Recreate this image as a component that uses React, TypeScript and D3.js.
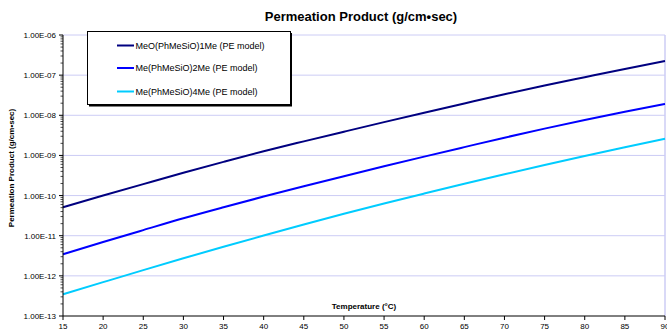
import React from "react";
import * as d3 from "d3";

const temperatures = [15, 20, 25, 30, 35, 40, 45, 50, 55, 60, 65, 70, 75, 80, 85, 90];
const seriesNames = [
  "MeO(PhMeSiO)1Me (PE model)",
  "Me(PhMeSiO)2Me (PE model)",
  "Me(PhMeSiO)4Me (PE model)",
];
const series1 = [5.13e-11, 1.0e-10, 1.93e-10, 3.7e-10, 6.92e-10, 1.27e-9, 2.24e-9, 3.9e-9, 6.76e-9, 1.16e-8, 1.97e-8, 3.33e-8, 5.52e-8, 8.91e-8, 1.43e-7, 2.24e-7];
const series2 = [3.44e-12, 6.95e-12, 1.38e-11, 2.72e-11, 5.12e-11, 9.44e-11, 1.71e-10, 3.04e-10, 5.36e-10, 9.33e-10, 1.61e-9, 2.77e-9, 4.65e-9, 7.59e-9, 1.22e-8, 1.91e-8];
const series3 = [3.48e-13, 6.97e-13, 1.39e-12, 2.74e-12, 5.31e-12, 1.01e-11, 1.9e-11, 3.52e-11, 6.34e-11, 1.12e-10, 1.96e-10, 3.39e-10, 5.75e-10, 9.64e-10, 1.6e-9, 2.61e-9];
const xTicks = [15, 20, 25, 30, 35, 40, 45, 50, 55, 60, 65, 70, 75, 80, 85, 90];
const yTickLabels = ["1.00E-13", "1.00E-12", "1.00E-11", "1.00E-10", "1.00E-09", "1.00E-08", "1.00E-07", "1.00E-06"];
const yTickValues = [1e-13, 1e-12, 1e-11, 1e-10, 1e-9, 1e-8, 1e-7, 1e-6];

const colors = ["#000080", "#0000ff", "#00ccff"];
const FONT = "'Liberation Sans', Arial, sans-serif";

export default function App() {
  const W = 667, H = 335;
  const left = 63, right = 665, top = 35, bottom = 316;
  const x = d3.scaleLinear().domain([15, 90]).range([left, right]);
  const y = d3.scaleLog().domain([1e-13, 1e-6]).range([bottom, top]);
  const allSeries = [series1, series2, series3];
  const line = d3
    .line<number>()
    .x((_, i) => x(temperatures[i]))
    .y((v) => y(v))
    .curve(d3.curveMonotoneX);

  const minor: number[] = [];
  for (let e = -13; e < -6; e++) {
    for (let m = 2; m <= 9; m++) minor.push(m * Math.pow(10, e));
  }

  const legendRows = [45.5, 68, 91.5];

  return (
    <svg
      width={W}
      height={H}
      style={{ position: "absolute", left: 0, top: 0, background: "#fff" }}
      fontFamily={FONT}
    >
      <rect x={0} y={0} width={W} height={H} fill="#fff" />
      <text x={361} y={21} textAnchor="middle" fontSize={13} fontWeight="bold">
        Permeation Product (g/cm•sec)
      </text>
      {/* gridlines */}
      {yTickValues.slice(1).map((v, i) => (
        <line key={i} x1={left} x2={right} y1={y(v)} y2={y(v)} stroke="#ccccf5" strokeWidth={1} />
      ))}
      <line x1={right} x2={right} y1={top} y2={bottom} stroke="#ccccf5" strokeWidth={1.5} />
      {/* series */}
      {allSeries.map((s, i) => (
        <path key={i} d={line(s) || ""} fill="none" stroke={colors[i]} strokeWidth={2} />
      ))}
      {/* axes */}
      <line x1={left} x2={left} y1={top} y2={bottom} stroke="#000" strokeWidth={1} />
      <line x1={left} x2={right} y1={bottom} y2={bottom} stroke="#000" strokeWidth={1} />
      {minor.map((v, i) => (
        <line key={i} x1={left - 2.5} x2={left} y1={y(v)} y2={y(v)} stroke="#000" strokeWidth={0.7} />
      ))}
      {yTickValues.map((v, i) => (
        <g key={i}>
          <line x1={left - 4} x2={left} y1={y(v)} y2={y(v)} stroke="#000" strokeWidth={1} />
          <text x={left - 7} y={y(v) + 3} textAnchor="end" fontSize={8}>
            {yTickLabels[i]}
          </text>
        </g>
      ))}
      {xTicks.map((t, i) => (
        <g key={i}>
          <line x1={x(t)} x2={x(t)} y1={bottom} y2={bottom + 4} stroke="#000" strokeWidth={1} />
          <text x={x(t)} y={bottom + 13} textAnchor="middle" fontSize={8}>
            {t}
          </text>
        </g>
      ))}
      <text x={364} y={309} textAnchor="middle" fontSize={8} fontWeight="bold">
        Temperature (°C)
      </text>
      <text
        transform={`translate(14,168) rotate(-90)`}
        textAnchor="middle"
        fontSize={8}
        fontWeight="bold"
      >
        Permeation Product (g/cm•sec)
      </text>
      {/* legend */}
      <rect x={89} y={33} width={203} height={73.5} fill="#000" />
      <rect x={87.5} y={31.5} width={203} height={73} fill="#fff" stroke="#000" strokeWidth={1} />
      {seriesNames.map((n, i) => (
        <g key={i}>
          <line x1={117} x2={134} y1={legendRows[i]} y2={legendRows[i]} stroke={colors[i]} strokeWidth={2} />
          <text x={135.5} y={legendRows[i] + 3} fontSize={9}>
            {n}
          </text>
        </g>
      ))}
    </svg>
  );
}
